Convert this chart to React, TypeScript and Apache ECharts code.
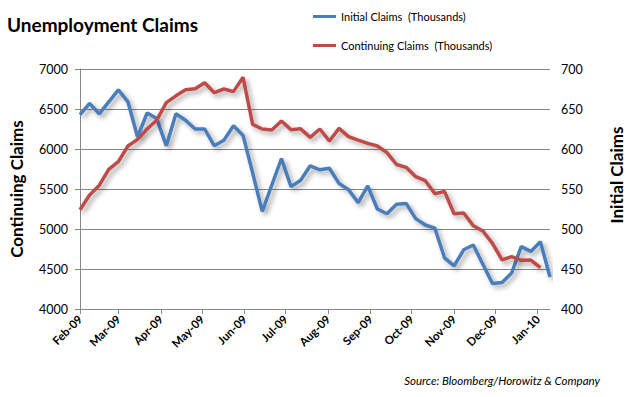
import React, { useEffect, useRef } from "react";
import * as echarts from "echarts";

const weekDates: string[] = [
  "2009-02-01", "2009-02-08", "2009-02-15", "2009-02-22",
  "2009-03-01", "2009-03-08", "2009-03-15", "2009-03-22", "2009-03-29",
  "2009-04-05", "2009-04-12", "2009-04-19", "2009-04-26",
  "2009-05-03", "2009-05-10", "2009-05-17", "2009-05-24", "2009-05-31",
  "2009-06-07", "2009-06-14", "2009-06-21", "2009-06-28",
  "2009-07-05", "2009-07-12", "2009-07-19", "2009-07-26",
  "2009-08-02", "2009-08-09", "2009-08-16", "2009-08-23", "2009-08-30",
  "2009-09-06", "2009-09-13", "2009-09-20", "2009-09-27",
  "2009-10-04", "2009-10-11", "2009-10-18", "2009-10-25",
  "2009-11-01", "2009-11-08", "2009-11-15", "2009-11-22", "2009-11-29",
  "2009-12-06", "2009-12-13", "2009-12-20", "2009-12-27",
  "2010-01-03", "2010-01-10",
];

// Initial Claims (Thousands) - right axis
const initialClaims: number[] = [
  643, 657, 644, 659, 674, 659, 615, 645, 638, 604,
  644, 636, 625, 625, 604, 611, 629, 617, 570, 522,
  555, 588, 553, 561, 579, 574, 576, 557, 549, 533,
  554, 525, 519, 531, 532, 513, 505, 501, 464, 454,
  474, 480, 456, 432, 433, 445, 478, 472, 484, 440,
];

// Continuing Claims (Thousands) - left axis
const continuingClaims: number[] = [
  5240, 5425, 5545, 5746, 5842, 6037, 6121, 6250, 6360, 6579,
  6665, 6740, 6752, 6829, 6704, 6750, 6717, 6896, 6308, 6250,
  6237, 6350, 6240, 6252, 6146, 6250, 6100, 6258, 6154, 6112,
  6071, 6037, 5954, 5806, 5771, 5654, 5604, 5440, 5470, 5190,
  5200, 5040, 4975, 4821, 4615, 4654, 4608, 4612, 4518,
];

const monthTicks: string[] = [
  "2009-02-01", "2009-03-01", "2009-04-01", "2009-05-01", "2009-06-01", "2009-07-01",
  "2009-08-01", "2009-09-01", "2009-10-01", "2009-11-01", "2009-12-01", "2010-01-01",
];

const axisStart = "2009-02-01";
const axisEnd = "2010-01-10";

const monthNames = ["Jan", "Feb", "Mar", "Apr", "May", "Jun", "Jul", "Aug", "Sep", "Oct", "Nov", "Dec"];

const DAY = 86400000;
const toDate = (s: string) => {
  const [y, m, d] = s.split("-").map(Number);
  return new Date(Date.UTC(y, m - 1, d));
};
const toDay = (s: string) => Math.round((toDate(s).getTime() - toDate(axisStart).getTime()) / DAY);
const dayLabel = (v: number) => {
  const d = new Date(toDate(axisStart).getTime() + v * DAY);
  return monthNames[d.getUTCMonth()] + "-" + String(d.getUTCFullYear()).slice(2);
};

const FONT = "Lato, 'Open Sans', sans-serif";

export default function App() {
  const ref = useRef<HTMLDivElement>(null);
  useEffect(() => {
    if (!ref.current) return;
    const chart = echarts.init(ref.current, undefined, { renderer: "svg" });
    const tickDays = monthTicks.map(toDay);
    const shadow = {
      shadowColor: "rgba(0,0,0,0.35)",
      shadowBlur: 5,
      shadowOffsetX: 3,
      shadowOffsetY: 3,
    };
    chart.setOption({
      animation: false,
      backgroundColor: "#ffffff",
      textStyle: { fontFamily: FONT },
      title: {
        text: "Unemployment Claims",
        left: 2,
        top: 10,
        textStyle: { fontFamily: FONT, fontSize: 19, fontWeight: "bold", color: "#000" },
      },
      legend: {
        orient: "vertical",
        left: 308,
        top: 6,
        itemWidth: 23,
        itemHeight: 3,
        itemGap: 18,
        icon: "rect",
        textStyle: { fontFamily: FONT, fontSize: 11, color: "#000" },
        data: ["Initial Claims  (Thousands)", "Continuing Claims  (Thousands)"],
      },
      grid: { left: 80, right: 81, top: 69, bottom: 88, containLabel: false },
      xAxis: {
        type: "value",
        min: 0,
        max: toDay(axisEnd),
        axisLine: { show: true, onZero: false, lineStyle: { color: "#868686", width: 1 } },
        axisTick: { show: true, length: 5, customValues: tickDays, lineStyle: { color: "#868686" } },
        axisLabel: {
          customValues: tickDays,
          rotate: 45,
          margin: 8,
          fontFamily: FONT,
          fontSize: 11.5,
          fontWeight: "bold",
          color: "#000",
          formatter: (v: number) => dayLabel(v),
        },
        splitLine: { show: false },
      },
      yAxis: [
        {
          type: "value",
          min: 4000,
          max: 7000,
          interval: 500,
          position: "left",
          name: "Continuing Claims",
          nameLocation: "middle",
          nameRotate: 90,
          nameGap: 55,
          nameTextStyle: { fontFamily: FONT, fontSize: 17, fontWeight: "bold", color: "#000" },
          axisLine: { show: true, lineStyle: { color: "#868686" } },
          axisTick: { show: true, length: 5, lineStyle: { color: "#868686" } },
          axisLabel: { margin: 12, fontFamily: FONT, fontSize: 12.5, color: "#000", formatter: (v: number) => String(v) },
          splitLine: { show: true, lineStyle: { color: "#868686", width: 1 } },
        },
        {
          type: "value",
          min: 400,
          max: 700,
          interval: 50,
          position: "right",
          name: "Initial Claims",
          nameLocation: "middle",
          nameRotate: 90,
          nameGap: 58,
          nameTextStyle: { fontFamily: FONT, fontSize: 17, fontWeight: "bold", color: "#000", padding: [0, 0, 0, 28] },
          axisLine: { show: false },
          axisTick: { show: false },
          axisLabel: { margin: 11, fontFamily: FONT, fontSize: 12.5, color: "#000", formatter: (v: number) => String(v) },
          splitLine: { show: false },
        },
      ],
      graphic: [
        {
          type: "text",
          right: 33,
          top: 374,
          style: {
            text: "Source: Bloomberg/Horowitz & Company",
            fontFamily: FONT,
            fontSize: 11.5,
            fontStyle: "italic",
            fill: "#000",
          },
        },
      ],
      series: [
        {
          name: "Initial Claims  (Thousands)",
          type: "line",
          yAxisIndex: 1,
          showSymbol: false,
          symbol: "none",
          color: "#4a7ebb",
          lineStyle: { color: "#4a7ebb", width: 3.5, ...shadow },
          data: weekDates.map((d, i) => [toDay(d), initialClaims[i]]),
        },
        {
          name: "Continuing Claims  (Thousands)",
          type: "line",
          yAxisIndex: 0,
          showSymbol: false,
          symbol: "none",
          color: "#be4b48",
          lineStyle: { color: "#be4b48", width: 3.5, ...shadow },
          data: continuingClaims.map((v, i) => [toDay(weekDates[i]), v]),
        },
      ],
    });
    return () => chart.dispose();
  }, []);
  return (
    <div
      ref={ref}
      style={{ position: "fixed", left: 0, top: 0, width: 633, height: 397 }}
    />
  );
}
